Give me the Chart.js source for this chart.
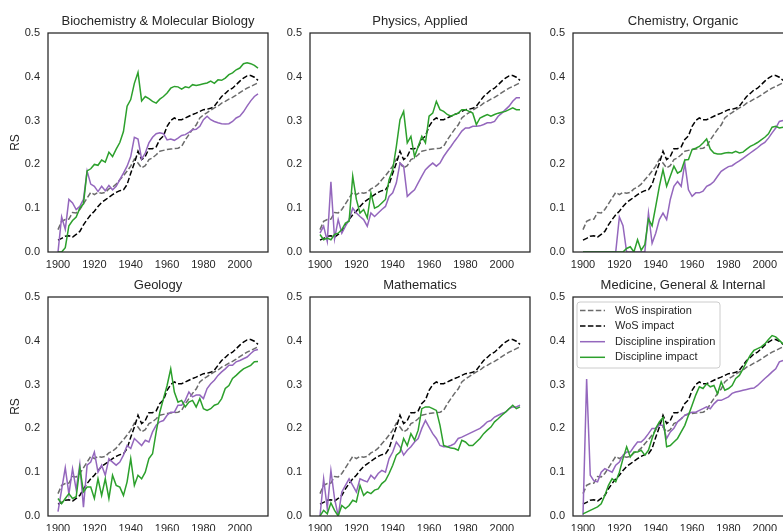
<!DOCTYPE html>
<html>
<head>
<meta charset="utf-8">
<script src="https://cdn.jsdelivr.net/npm/chart.js@4.4.1/dist/chart.umd.min.js"></script>
<style>
  html, body { margin: 0; padding: 0; background: #fff; width: 783px; height: 531px; overflow: hidden; }
  canvas { position: absolute; }
</style>
</head>
<body>
<canvas id="p0" width="274" height="274" style="left:0px;top:0px"></canvas>
<canvas id="p1" width="274" height="274" style="left:262px;top:0px"></canvas>
<canvas id="p2" width="274" height="274" style="left:525px;top:0px"></canvas>
<canvas id="p3" width="274" height="274" style="left:0px;top:264px"></canvas>
<canvas id="p4" width="274" height="274" style="left:262px;top:264px"></canvas>
<canvas id="p5" width="274" height="274" style="left:525px;top:264px"></canvas>
<script>
// years sampled every two years, 1900-2010
const years = [1900,1902,1904,1906,1908,1910,1912,1914,1916,1918,
               1920,1922,1924,1926,1928,1930,1932,1934,1936,1938,
               1940,1942,1944,1946,1948,1950,1952,1954,1956,1958,
               1960,1962,1964,1966,1968,1970,1972,1974,1976,1978,
               1980,1982,1984,1986,1988,1990,1992,1994,1996,1998,
               2000,2002,2004,2006,2008,2010];
const xTicks = [1900, 1920, 1940, 1960, 1980, 2000];
const yTicks = [0, 0.1, 0.2, 0.3, 0.4, 0.5];

const titles = ['Biochemistry & Molecular Biology', 'Physics, Applied', 'Chemistry, Organic',
                'Geology', 'Mathematics', 'Medicine, General & Internal'];
const seriesNames = ['WoS inspiration', 'WoS impact', 'Discipline inspiration', 'Discipline impact'];

// whole Web of Science baseline, same in every panel
const wosInspiration = [.051,.070,.074,.075,.090,.089,.097,.110,.123,.136,
  .131,.136,.134,.136,.144,.148,.155,.165,.174,.185,
  .196,.212,.203,.192,.197,.211,.215,.222,.230,.232,
  .234,.235,.236,.237,.241,.256,.268,.280,.290,.306,
  .313,.318,.324,.329,.333,.340,.344,.349,.353,.358,
  .364,.369,.374,.378,.382,.386];
const wosImpact = [.027,.031,.036,.037,.034,.040,.047,.062,.074,.085,
  .093,.104,.113,.119,.125,.131,.136,.140,.142,.154,
  .180,.203,.230,.211,.218,.236,.236,.240,.257,.265,
  .287,.300,.306,.302,.302,.306,.310,.314,.317,.321,
  .325,.326,.328,.333,.344,.355,.362,.370,.374,.382,
  .390,.397,.402,.403,.399,.392];

const bioInspiration = [0,.08,.052,.12,.112,.097,.104,.12,.185,.155,
  .15,.138,.15,.14,.152,.142,.15,.165,.18,.196,
  .218,.262,.258,.212,.226,.249,.262,.27,.272,.27,
  .256,.258,.255,.26,.266,.268,.273,.279,.28,.287,
  .302,.31,.302,.298,.295,.293,.292,.293,.298,.306,
  .31,.32,.333,.345,.355,.361];
const bioImpact = [0,0,.01,.06,.072,.08,.1,.11,.185,.19,
  .2,.198,.21,.205,.228,.218,.235,.25,.275,.333,
  .348,.385,.41,.345,.355,.35,.344,.34,.349,.355,
  .363,.374,.378,.377,.372,.377,.375,.382,.38,.382,
  .384,.386,.39,.385,.393,.392,.397,.405,.409,.416,
  .42,.43,.432,.43,.426,.42];

const physInspiration = [.043,.059,.024,.16,.03,.074,.043,.059,.074,.10,
  .089,.081,.074,.059,.089,.081,.089,.097,.104,.127,
  .135,.158,.203,.196,.127,.135,.142,.158,.173,.188,
  .196,.203,.196,.203,.218,.23,.241,.253,.264,.276,
  .283,.283,.287,.287,.288,.291,.295,.295,.298,.31,
  .317,.325,.333,.344,.352,.352];
const physImpact = [.04,.028,.032,.028,.04,.043,.051,.066,.07,.173,
  .12,.089,.097,.078,.135,.1,.104,.112,.12,.165,
  .188,.241,.302,.321,.249,.264,.218,.241,.264,.249,
  .31,.317,.344,.325,.321,.314,.31,.314,.317,.325,
  .325,.321,.317,.291,.306,.31,.314,.31,.314,.317,
  .319,.321,.325,.329,.325,.325];

const chemInspiration = [0,0,0,0,0,0,0,0,0,0,
  .08,.06,0,0,0,0,0,0,.089,.02,
  .043,.074,.089,.074,.12,.15,.161,.15,.203,.142,
  .127,.135,.135,.139,.15,.154,.161,.173,.184,.19,
  .195,.197,.203,.208,.214,.22,.226,.232,.238,.245,
  .25,.26,.272,.283,.298,.30];
const chemImpact = [0,0,0,0,0,0,0,0,0,0,
  0,0,.008,.012,0,.028,.004,.017,.075,.06,
  .104,.15,.188,.15,.173,.196,.18,.185,.21,.211,
  .234,.237,.241,.249,.258,.235,.226,.224,.224,.226,
  .227,.226,.23,.226,.228,.235,.241,.245,.25,.256,
  .262,.27,.285,.287,.283,.285];

const geoInspiration = [.01,.06,.11,.05,.108,.06,.118,.02,.116,.123,
  .146,.1,.116,.093,.131,.123,.116,.123,.139,.161,
  .154,.177,.169,.161,.173,.169,.192,.207,.215,.218,
  .23,.237,.237,.253,.253,.264,.283,.272,.276,.276,
  .268,.291,.302,.31,.321,.329,.336,.344,.344,.352,
  .355,.359,.363,.371,.378,.38];
const geoImpact = [.04,.028,.04,.051,.04,.044,.11,.055,.066,.066,
  .04,.085,.047,.085,.04,.093,.07,.066,.047,.078,
  .131,.07,.093,.085,.1,.131,.142,.192,.237,.268,
  .298,.336,.283,.26,.264,.249,.26,.264,.249,.268,
  .245,.241,.245,.253,.256,.268,.291,.298,.314,.321,
  .329,.336,.34,.344,.352,.353];

const mathInspiration = [0,.085,.017,.104,.04,0,.055,.07,.085,.07,
  .055,.085,.081,.078,.093,.085,.097,.104,.1,.131,
  .146,.169,.158,.139,.15,.158,.169,.177,.2,.218,
  .203,.188,.177,.161,.158,.158,.161,.165,.177,.18,
  .184,.188,.192,.196,.2,.207,.215,.218,.226,.23,
  .234,.237,.245,.249,.249,.253];
const mathImpact = [0,.013,.005,.03,.013,0,.024,.017,.024,.036,
  .032,.07,.047,.055,.051,.059,.062,.074,.081,.097,
  .116,.139,.146,.177,.161,.188,.173,.196,.245,.249,
  .249,.245,.241,.207,.161,.158,.155,.154,.15,.173,
  .169,.161,.161,.169,.177,.188,.196,.203,.215,.222,
  .23,.237,.245,.253,.245,.249];

const medInspiration = [.002,.313,.093,.08,.078,.1,.108,.104,.1,.116,
  .123,.139,.146,.146,.158,.169,.169,.177,.188,.2,
  .2,.207,.207,.177,.192,.2,.215,.222,.23,.234,
  .237,.237,.241,.245,.249,.245,.256,.264,.264,.268,
  .272,.28,.283,.285,.287,.289,.291,.292,.298,.306,
  .314,.321,.329,.336,.352,.355];
const medImpact = [.005,.009,.013,.017,.021,.028,.047,.07,.085,.078,
  .1,.131,.158,.135,.146,.146,.15,.139,.15,.177,
  .2,.215,.225,.158,.161,.169,.177,.192,.207,.23,
  .253,.276,.295,.291,.302,.295,.298,.279,.306,.287,
  .291,.298,.314,.321,.336,.352,.367,.378,.382,.386,
  .393,.403,.412,.409,.401,.393];

const panelInspiration = [bioInspiration, physInspiration, chemInspiration, geoInspiration, mathInspiration, medInspiration];
const panelImpact = [bioImpact, physImpact, chemImpact, geoImpact, mathImpact, medImpact];

const colors = ['#6b6b6b', '#000000', '#9467bd', '#2ca02c'];
const dashes = [[5.5, 2.4], [5.5, 2.4], [], []];

Chart.defaults.font.family = '"Liberation Sans", Arial, sans-serif';
Chart.defaults.color = '#262626';

function points(values) {
  return years.map((yr, i) => ({x: yr, y: values[i]}));
}

// matplotlib-like box around the axes
const framePlugin = {
  id: 'frame',
  afterDatasetsDraw(chart) {
    const {ctx, chartArea: a} = chart;
    ctx.save();
    ctx.strokeStyle = '#262626';
    ctx.lineWidth = 1.25;
    ctx.strokeRect(a.left, a.top, a.right - a.left, a.bottom - a.top);
    ctx.restore();
  }
};

// legend drawn inside the axes, upper left
const innerLegend = {
  id: 'innerLegend',
  afterDraw(chart) {
    const {ctx, chartArea: a} = chart;
    const bx = a.left + 4, by = a.top + 5, bw = 143, bh = 66;
    ctx.save();
    ctx.beginPath();
    ctx.roundRect(bx, by, bw, bh, 3);
    ctx.fillStyle = 'rgba(255,255,255,0.8)';
    ctx.fill();
    ctx.strokeStyle = '#cccccc';
    ctx.lineWidth = 1;
    ctx.stroke();
    ctx.font = '11px "Liberation Sans", Arial, sans-serif';
    ctx.textBaseline = 'middle';
    seriesNames.forEach((name, i) => {
      const y = by + 8.5 + i * 15.6;
      ctx.beginPath();
      ctx.setLineDash(dashes[i]);
      ctx.strokeStyle = colors[i];
      ctx.lineWidth = 1.5;
      ctx.moveTo(bx + 3, y);
      ctx.lineTo(bx + 28, y);
      ctx.stroke();
      ctx.setLineDash([]);
      ctx.fillStyle = '#262626';
      ctx.fillText(name, bx + 38, y);
    });
    ctx.restore();
  }
};

function makeChart(idx) {
  const seriesValues = [wosInspiration, wosImpact, panelInspiration[idx], panelImpact[idx]];
  const datasets = seriesValues.map((vals, i) => ({
    label: seriesNames[i],
    data: points(vals),
    borderColor: colors[i],
    borderDash: dashes[i],
    borderWidth: 1.5,
    pointRadius: 0,
    fill: false,
    tension: 0,
    order: 3 - i
  }));

  const plugins = [framePlugin];
  if (idx === 5) plugins.push(innerLegend);

  new Chart(document.getElementById('p' + idx), {
    type: 'line',
    data: {datasets},
    plugins,
    options: {
      responsive: false,
      animation: false,
      layout: {padding: {left: 0, right: 6, top: 0, bottom: 0}},
      plugins: {
        legend: {display: false},
        tooltip: {enabled: false},
        title: {
          display: true,
          fullSize: false,
          text: titles[idx],
          color: '#262626',
          font: {size: 13, weight: 'normal'},
          padding: {top: 14, bottom: 3.4}
        }
      },
      scales: {
        x: {
          type: 'linear',
          min: 1894.5,
          max: 2015.5,
          grid: {display: false, drawTicks: false},
          border: {display: false},
          ticks: {font: {size: 11}, padding: 6, maxRotation: 0, autoSkip: false,
                  callback: v => String(v)},
          afterBuildTicks: s => { s.ticks = xTicks.map(v => ({value: v})); },
          afterFit: s => { s.height = 22; }
        },
        y: {
          min: 0,
          max: 0.5,
          grid: {display: false, drawTicks: false},
          border: {display: false},
          ticks: {font: {size: 11}, padding: 8, callback: v => v.toFixed(1)},
          afterBuildTicks: s => { s.ticks = yTicks.map(v => ({value: v})); },
          afterFit: s => { s.width = 48; },
          title: {display: idx % 3 === 0, text: 'RS', font: {size: 12}, padding: {top: 8, bottom: 0}}
        }
      }
    }
  });
}

for (let i = 0; i < 6; i++) makeChart(i);
</script>
</body>
</html>
